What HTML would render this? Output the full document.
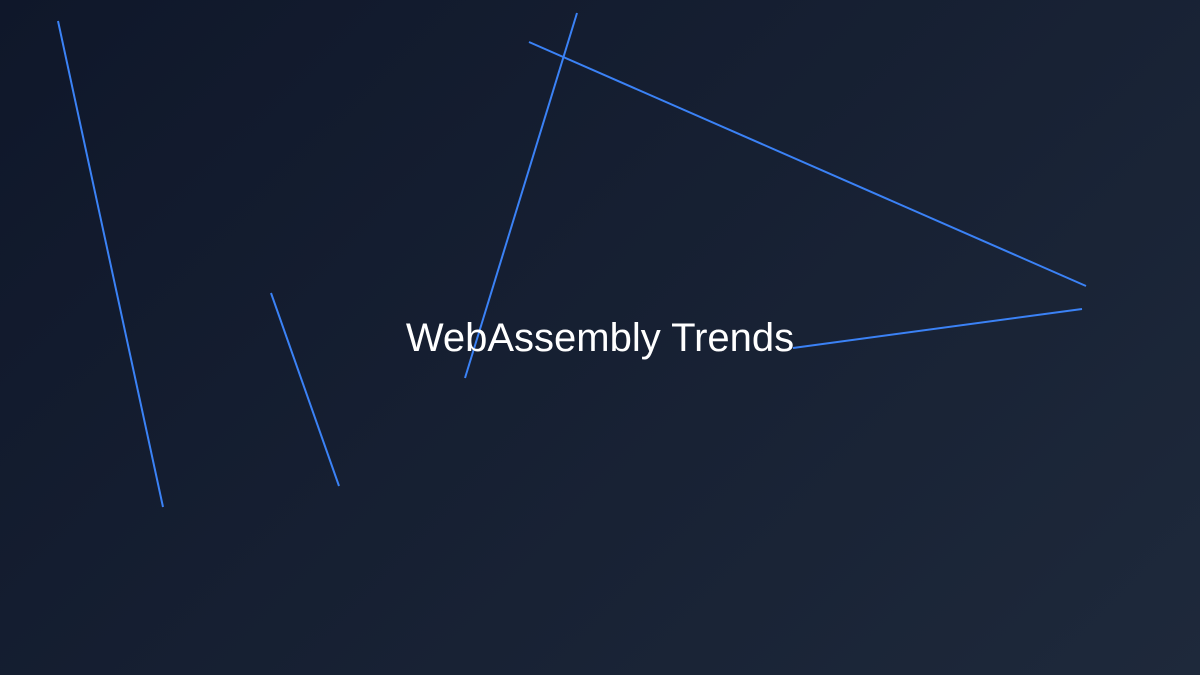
<!DOCTYPE html>
<html><head><style>
html,body{margin:0;padding:0;}
body{width:1200px;height:675px;overflow:hidden;background:linear-gradient(135deg,#0f172a 0%,#1e293b 100%);position:relative;}
svg{position:absolute;left:0;top:0;}
.t{position:absolute;left:0;width:1200px;top:315px;text-align:center;color:#fff;font-family:"Liberation Sans",sans-serif;font-size:40px;line-height:46px;}
</style></head><body>
<svg width="1200" height="675">
<g stroke="#3b82f6" stroke-width="2" fill="none">
<line x1="58" y1="21" x2="163" y2="507"/>
<line x1="271" y1="293" x2="339" y2="486"/>
<line x1="577" y1="13" x2="465" y2="378"/>
<line x1="529" y1="42" x2="1086" y2="286"/>
<line x1="793" y1="348" x2="1082" y2="309"/>
</g>
</svg>
<div class="t">WebAssembly Trends</div>
</body></html>
